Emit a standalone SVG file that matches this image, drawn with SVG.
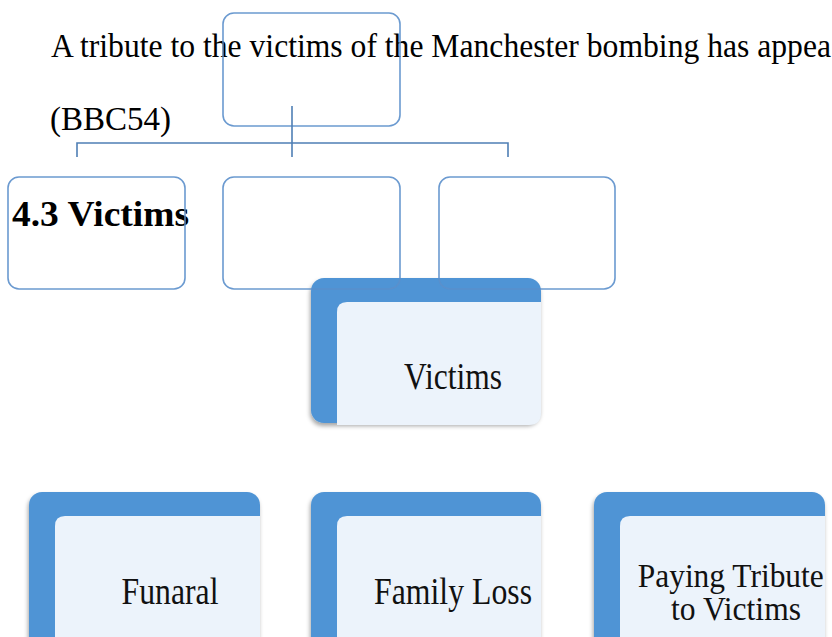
<svg xmlns="http://www.w3.org/2000/svg" width="832" height="637" viewBox="0 0 832 637">
  <style>
    .body { font-family: "Liberation Serif", "Times New Roman", serif; fill: #000; }
    .head { font-family: "Liberation Serif", "Times New Roman", serif; font-weight: bold; fill: #000; }
    .label { font-family: "Liberation Serif", "Times New Roman", serif; fill: #111; text-anchor: middle; }
    .outline { fill: none; stroke: #5b8fcb; stroke-width: 1.6; stroke-opacity: 0.9; }
    .conn { fill: none; stroke: #4f7fb5; stroke-width: 1.6; }
    .back { fill: #4f94d5; }
    .front { fill: #ecf3fb; }
  </style>
  <defs>
    <filter id="shadow" x="-10%" y="-10%" width="120%" height="125%">
      <feDropShadow dx="-1" dy="3" stdDeviation="2" flood-color="#000" flood-opacity="0.35"/>
    </filter>
  </defs>

  <rect width="832" height="637" fill="#ffffff"/>

  <!-- page text -->
  <text class="body" x="51" y="57" font-size="33" textLength="780" lengthAdjust="spacingAndGlyphs">A tribute to the victims of the Manchester bombing has appea</text>
  <text class="body" x="50" y="130" font-size="33">(BBC54)</text>
  <text class="head" x="12" y="226" font-size="36" textLength="177" lengthAdjust="spacingAndGlyphs">4.3 Victims</text>

  <!-- central node -->
  <g id="node-victims">
    <rect class="back" x="311" y="278" width="230" height="145" rx="13" filter="url(#shadow)"/>
    <path class="front" d="M347,302 H541 V413 Q541,425 529,425 H337 V312 Q337,302 347,302 Z"/>
    <text class="label" x="453" y="389" font-size="37" textLength="98" lengthAdjust="spacingAndGlyphs">Victims</text>
  </g>

  <!-- bottom row -->
  <g id="node-funaral">
    <rect class="back" x="29" y="492" width="231" height="160" rx="13" filter="url(#shadow)"/>
    <path class="front" d="M65,516 H260 V652 H55 V526 Q55,516 65,516 Z"/>
    <text class="label" x="170" y="604" font-size="37" textLength="97" lengthAdjust="spacingAndGlyphs">Funaral</text>
  </g>
  <g id="node-family-loss">
    <rect class="back" x="311" y="492" width="230" height="160" rx="13" filter="url(#shadow)"/>
    <path class="front" d="M347,516 H541 V652 H337 V526 Q337,516 347,516 Z"/>
    <text class="label" x="453" y="604" font-size="37" textLength="158" lengthAdjust="spacingAndGlyphs">Family Loss</text>
  </g>
  <g id="node-paying-tribute">
    <rect class="back" x="594" y="492" width="231" height="160" rx="13" filter="url(#shadow)"/>
    <path class="front" d="M630,516 H825 V652 H620 V526 Q620,516 630,516 Z"/>
    <text class="label" font-size="34">
      <tspan x="735" y="587" textLength="186" lengthAdjust="spacingAndGlyphs">Paying Tribute</tspan>
      <tspan x="736" y="620" textLength="130" lengthAdjust="spacingAndGlyphs">to Victims</tspan>
    </text>
  </g>

  <!-- empty outline boxes -->
  <g id="box-top"><rect class="outline" x="223" y="13" width="177" height="113" rx="11"/></g>
  <g id="box-left"><rect class="outline" x="8" y="177" width="177" height="112" rx="11"/></g>
  <g id="box-middle"><rect class="outline" x="223" y="177" width="177" height="112" rx="11"/></g>
  <g id="box-right"><rect class="outline" x="439" y="177" width="176" height="112" rx="11"/></g>

  <!-- connectors -->
  <g id="connectors">
    <path class="conn" d="M292,106 V157"/>
    <path class="conn" d="M77,157 V143 H508 V157"/>
  </g>
</svg>
